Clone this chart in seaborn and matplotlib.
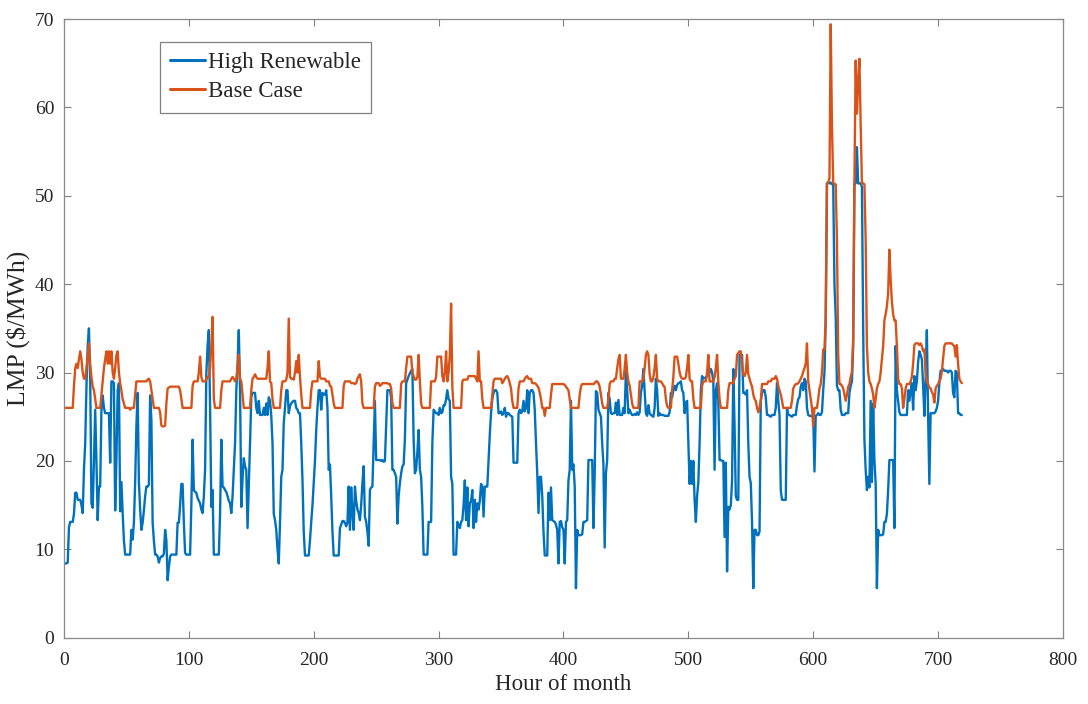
import matplotlib
matplotlib.use("Agg")
import matplotlib.pyplot as plt
import numpy as np
import pandas as pd
import seaborn as sns

# Hourly LMP values ($/MWh), one row of 24 values per day (30 days)
high_renewable = [
    8.5, 8.4, 8.4, 8.5, 12.5, 13.1, 13.1, 13.1, 14.0, 16.4, 16.4, 15.6, 15.6, 15.6, 15.0, 14.1, 19.0, 22.0, 28.4, 33.0, 35.0, 29.3, 15.2, 14.7,
    20.0, 25.8, 20.0, 13.3, 17.1, 17.1, 25.8, 27.4, 26.0, 25.4, 25.4, 25.4, 25.4, 19.8, 29.0, 29.0, 28.8, 14.4, 20.0, 28.0, 28.8, 14.3, 17.6, 14.1,
    11.0, 9.4, 9.4, 9.4, 9.4, 9.4, 12.2, 11.1, 13.0, 17.6, 24.0, 27.7, 17.6, 14.5, 12.2, 13.0, 14.4, 16.0, 17.1, 17.1, 17.3, 27.4, 24.6, 13.0,
    11.0, 9.4, 9.4, 9.2, 8.5, 9.0, 9.2, 9.2, 9.5, 12.2, 11.0, 6.5, 8.0, 9.2, 9.4, 9.4, 9.4, 9.4, 9.4, 13.0, 13.0, 15.0, 17.4, 17.4,
    13.0, 9.6, 9.4, 9.4, 9.4, 9.4, 15.0, 22.4, 16.7, 16.5, 16.4, 15.8, 15.5, 15.2, 14.5, 14.1, 16.0, 19.0, 29.9, 33.0, 34.8, 26.1, 14.8, 16.7,
    9.4, 9.4, 9.4, 9.4, 9.4, 14.0, 22.4, 17.1, 17.0, 16.7, 16.5, 16.0, 15.5, 15.2, 14.1, 16.0, 19.0, 22.0, 28.0, 31.0, 34.8, 28.0, 14.8, 18.0,
    20.3, 19.4, 19.0, 12.4, 17.1, 22.0, 27.2, 27.7, 27.7, 27.7, 26.0, 25.4, 26.8, 25.2, 25.2, 25.2, 26.0, 25.2, 26.5, 25.2, 27.2, 26.8, 25.1, 22.0,
    14.0, 13.3, 12.2, 10.0, 8.4, 13.0, 18.2, 19.0, 24.3, 26.0, 28.0, 28.0, 25.4, 26.2, 26.5, 26.7, 26.8, 26.8, 26.0, 25.8, 25.4, 25.4, 22.0, 17.8,
    12.0, 9.3, 9.3, 9.3, 9.3, 11.0, 13.1, 15.0, 17.4, 20.0, 23.5, 26.0, 28.0, 28.0, 25.8, 27.7, 27.5, 27.5, 28.0, 26.0, 19.0, 19.6, 16.0, 12.0,
    9.3, 9.3, 9.3, 9.3, 9.3, 12.4, 12.8, 13.2, 13.2, 13.0, 12.6, 13.0, 17.1, 12.2, 17.0, 14.0, 12.2, 17.1, 15.5, 14.5, 14.1, 13.3, 15.0, 17.5,
    19.4, 13.7, 13.1, 12.0, 10.4, 16.7, 17.0, 17.1, 22.0, 26.8, 20.1, 20.1, 20.1, 20.1, 20.0, 20.1, 19.9, 20.0, 24.0, 28.0, 28.0, 28.0, 27.2, 19.0,
    19.0, 18.6, 18.2, 12.9, 16.0, 17.5, 18.6, 19.4, 19.6, 22.4, 28.8, 29.2, 29.6, 29.9, 30.2, 30.4, 22.4, 18.6, 19.0, 21.0, 23.5, 19.0, 18.2, 14.8,
    9.4, 9.4, 9.4, 9.4, 13.1, 13.1, 13.1, 22.0, 25.8, 25.6, 25.4, 25.4, 25.2, 26.0, 25.4, 25.5, 26.3, 26.3, 27.0, 28.0, 27.0, 26.8, 18.2, 17.4,
    9.4, 9.4, 9.4, 13.1, 12.8, 12.4, 13.1, 13.3, 15.0, 17.8, 13.3, 17.0, 12.6, 15.2, 15.5, 16.7, 12.4, 15.6, 13.1, 15.2, 14.5, 15.5, 17.4, 17.1,
    13.7, 17.1, 17.1, 17.1, 20.0, 23.0, 25.4, 27.0, 27.7, 28.0, 28.0, 27.7, 25.4, 25.4, 25.6, 25.2, 25.4, 26.0, 25.0, 25.4, 25.4, 25.2, 25.1, 25.0,
    19.8, 19.8, 19.8, 19.8, 25.4, 25.8, 25.4, 25.6, 26.8, 25.6, 26.0, 28.0, 25.4, 27.7, 28.0, 28.0, 27.7, 25.8, 22.0, 18.6, 14.1, 18.2, 18.2, 16.0,
    12.0, 9.3, 9.3, 9.3, 16.4, 13.3, 17.0, 13.3, 13.2, 13.1, 12.8, 12.2, 8.4, 13.1, 13.2, 12.5, 12.2, 8.4, 13.1, 13.3, 17.8, 19.0, 26.8, 19.0,
    19.6, 17.1, 5.6, 12.2, 11.6, 11.6, 11.6, 11.7, 13.1, 13.1, 13.2, 13.3, 20.1, 20.1, 20.1, 20.1, 12.4, 18.6, 27.9, 27.7, 25.8, 25.4, 25.0, 22.0,
    19.6, 10.2, 18.6, 20.1, 27.7, 27.0, 25.4, 25.3, 25.4, 25.4, 26.6, 25.2, 26.9, 25.2, 25.2, 25.2, 26.0, 25.4, 30.2, 28.0, 25.4, 25.8, 25.4, 25.2,
    25.2, 25.3, 25.2, 25.5, 25.2, 25.5, 27.7, 28.5, 30.4, 28.0, 25.4, 25.1, 26.3, 25.4, 25.2, 25.1, 25.0, 26.0, 29.3, 28.0, 25.1, 25.4, 25.2, 25.2,
    25.2, 25.1, 25.1, 25.1, 25.1, 25.5, 27.7, 27.2, 28.0, 28.5, 28.0, 28.6, 28.8, 28.8, 29.0, 28.0, 27.7, 25.4, 26.6, 26.8, 22.0, 17.4, 20.0, 17.4,
    20.0, 15.6, 13.1, 16.0, 17.6, 22.0, 28.0, 29.6, 29.3, 29.4, 29.4, 29.6, 29.8, 30.0, 30.4, 30.0, 29.0, 19.0, 28.0, 28.8, 26.8, 20.1, 20.1, 20.0,
    20.0, 11.4, 19.8, 7.5, 14.8, 14.5, 15.0, 17.8, 30.4, 24.0, 16.0, 15.6, 15.6, 32.0, 32.0, 32.0, 27.7, 27.7, 27.5, 28.0, 22.0, 18.2, 17.5, 13.1,
    5.6, 12.2, 12.2, 11.6, 11.6, 12.0, 26.8, 27.7, 28.0, 28.0, 27.2, 25.2, 25.2, 25.1, 25.0, 25.2, 25.2, 25.2, 26.0, 28.8, 26.8, 25.2, 16.7, 15.6,
    15.6, 15.6, 15.6, 26.0, 25.2, 25.2, 25.1, 25.0, 25.2, 25.2, 25.2, 26.3, 27.0, 27.2, 28.4, 28.8, 28.0, 29.3, 29.0, 26.0, 25.2, 25.1, 25.1, 25.0,
    25.1, 18.8, 25.1, 25.2, 25.4, 25.2, 25.2, 25.5, 28.0, 30.0, 36.0, 51.4, 51.5, 51.4, 51.5, 51.3, 51.3, 40.0, 36.3, 28.5, 28.0, 28.0, 25.8, 25.2,
    25.2, 25.2, 25.4, 25.4, 25.4, 27.7, 28.5, 29.0, 33.0, 51.4, 51.4, 55.5, 51.4, 51.4, 51.4, 51.0, 35.0, 22.4, 19.0, 16.7, 18.2, 17.0, 26.8, 17.6,
    26.5, 20.1, 17.4, 5.6, 12.2, 11.6, 11.6, 11.6, 11.7, 13.1, 13.1, 14.0, 16.7, 20.1, 20.1, 20.1, 20.1, 12.4, 33.0, 28.0, 26.8, 25.5, 25.2, 25.2,
    25.2, 25.2, 25.2, 25.2, 28.0, 26.8, 28.0, 28.8, 25.8, 29.6, 28.0, 29.0, 31.2, 32.4, 32.0, 31.5, 28.5, 25.1, 29.3, 34.8, 25.1, 17.4, 25.4, 25.4,
    25.4, 25.4, 25.6, 26.0, 26.8, 28.8, 30.2, 30.2, 30.4, 30.2, 30.2, 30.2, 30.0, 30.2, 30.2, 30.0, 27.7, 27.2, 30.2, 30.0, 25.4, 25.4, 25.2, 25.2,
]

base_case = [
    26.0, 26.0, 26.0, 26.0, 26.0, 26.0, 26.0, 26.0, 28.5, 30.5, 31.0, 30.5, 31.5, 32.4, 31.5, 30.0, 29.3, 29.3, 30.5, 32.0, 33.3, 31.0, 29.5, 28.4,
    28.0, 27.0, 26.0, 26.0, 26.0, 26.0, 27.5, 29.0, 30.5, 31.5, 32.4, 31.0, 32.4, 31.0, 32.4, 30.0, 29.3, 30.5, 32.0, 32.4, 30.0, 28.8, 28.0, 27.0,
    26.5, 26.0, 26.0, 26.0, 26.0, 25.8, 26.0, 26.0, 26.0, 27.5, 29.0, 29.0, 29.0, 29.0, 29.0, 29.0, 29.0, 29.0, 29.0, 29.2, 29.3, 29.0, 28.0, 27.0,
    26.0, 26.0, 26.0, 26.0, 26.0, 25.5, 24.0, 23.9, 23.9, 24.0, 26.5, 28.2, 28.3, 28.4, 28.4, 28.4, 28.4, 28.4, 28.4, 28.4, 28.4, 28.0, 27.0, 26.0,
    26.0, 26.0, 26.0, 26.0, 26.0, 26.0, 26.0, 28.5, 29.0, 29.0, 29.0, 29.0, 30.0, 31.8, 29.5, 29.0, 29.0, 29.0, 29.2, 29.5, 29.5, 30.5, 33.0, 36.3,
    27.0, 26.0, 26.0, 26.0, 26.0, 26.0, 28.0, 29.0, 29.0, 29.0, 29.0, 29.0, 29.0, 29.0, 29.3, 29.5, 29.3, 29.0, 29.3, 30.5, 32.0, 29.3, 29.0, 27.5,
    26.0, 26.0, 26.0, 26.0, 26.0, 26.0, 28.0, 29.3, 29.5, 29.8, 29.5, 29.3, 29.3, 29.3, 29.3, 29.3, 29.3, 29.3, 29.3, 30.5, 32.4, 29.0, 28.8, 27.0,
    26.0, 26.0, 26.0, 26.0, 26.0, 26.0, 28.0, 29.0, 29.0, 29.0, 29.2, 30.0, 36.1, 29.5, 29.3, 29.3, 29.2, 30.0, 31.3, 30.0, 32.0, 29.5, 27.5, 26.0,
    26.0, 26.0, 26.0, 26.0, 26.0, 26.0, 28.0, 29.0, 29.0, 29.0, 29.0, 29.0, 31.3, 29.5, 29.3, 29.3, 29.3, 29.3, 29.0, 29.0, 29.0, 28.5, 28.4, 27.5,
    26.5, 26.0, 26.0, 26.0, 26.0, 26.0, 26.0, 26.0, 28.5, 29.0, 29.0, 29.0, 29.0, 29.0, 28.8, 28.8, 28.8, 28.7, 28.8, 29.3, 29.6, 29.8, 29.0, 26.5,
    26.0, 26.0, 26.0, 26.0, 26.0, 26.0, 26.0, 26.0, 26.0, 28.4, 28.8, 28.8, 28.8, 28.5, 28.6, 28.8, 28.8, 28.8, 28.8, 28.8, 28.7, 28.7, 28.2, 26.5,
    26.0, 26.0, 26.0, 26.0, 26.0, 26.0, 28.7, 29.0, 29.0, 29.0, 30.5, 31.8, 31.8, 31.8, 31.8, 30.0, 29.6, 29.2, 29.2, 29.5, 32.0, 29.0, 26.5, 26.0,
    26.0, 26.0, 26.0, 26.0, 26.0, 26.0, 29.0, 29.0, 29.0, 29.0, 29.5, 31.8, 31.8, 31.8, 31.8, 29.6, 29.0, 30.0, 32.4, 29.0, 30.0, 32.0, 37.8, 28.4,
    26.0, 26.0, 26.0, 26.0, 26.0, 26.0, 26.0, 29.0, 29.2, 29.2, 29.2, 29.2, 29.6, 29.6, 29.6, 29.6, 29.6, 29.6, 29.3, 29.0, 32.4, 29.0, 29.0, 27.0,
    26.0, 26.0, 26.0, 26.0, 26.0, 26.0, 26.0, 27.5, 29.0, 29.3, 29.3, 29.3, 29.3, 29.3, 29.3, 28.8, 29.0, 29.3, 29.5, 29.6, 29.3, 28.8, 28.2, 26.8,
    26.0, 26.0, 26.0, 26.0, 28.2, 29.0, 29.0, 29.0, 29.0, 29.3, 29.5, 29.6, 29.3, 29.3, 29.3, 28.8, 28.8, 28.8, 28.7, 28.5, 28.3, 27.7, 27.0, 26.0,
    26.0, 25.1, 26.0, 26.0, 26.0, 26.0, 27.5, 28.7, 28.7, 28.7, 28.7, 28.7, 28.7, 28.7, 28.7, 28.7, 28.7, 28.6, 28.4, 28.2, 28.0, 27.0, 26.0, 26.0,
    26.0, 26.0, 26.0, 26.0, 26.0, 27.5, 28.4, 28.7, 28.7, 28.7, 28.7, 28.7, 28.7, 28.7, 28.7, 28.7, 28.7, 28.8, 29.0, 29.0, 28.8, 28.4, 27.5, 26.5,
    26.0, 26.0, 26.0, 26.0, 27.0, 28.7, 29.0, 29.0, 29.0, 29.3, 29.3, 30.5, 31.5, 32.0, 29.3, 29.3, 29.3, 30.5, 32.0, 30.0, 29.0, 28.5, 27.5, 26.5,
    26.0, 26.0, 26.0, 26.0, 26.0, 29.0, 29.0, 29.0, 29.3, 30.5, 32.0, 32.4, 32.0, 29.8, 29.0, 29.0, 29.5, 30.5, 32.0, 29.3, 29.0, 29.0, 29.0, 28.8,
    28.5, 28.4, 27.0, 26.2, 26.0, 26.0, 26.0, 28.0, 29.5, 31.8, 31.8, 31.8, 31.0, 30.0, 29.5, 29.3, 29.3, 29.3, 29.5, 30.5, 32.0, 29.3, 29.0, 29.0,
    27.0, 26.0, 26.0, 26.0, 26.0, 26.0, 26.0, 28.5, 29.0, 29.0, 29.0, 30.0, 32.0, 29.0, 29.0, 29.0, 29.0, 29.5, 30.5, 32.0, 29.0, 27.0, 26.0, 26.0,
    26.0, 26.0, 26.0, 26.0, 28.0, 28.8, 28.8, 28.8, 28.8, 29.3, 29.6, 32.0, 32.2, 32.4, 32.4, 31.0, 29.8, 29.6, 30.0, 32.0, 29.8, 29.3, 28.8, 28.4,
    27.5, 27.0, 26.8, 26.0, 25.5, 26.0, 26.8, 28.7, 28.7, 28.7, 28.7, 28.7, 29.0, 29.0, 29.0, 29.3, 29.3, 29.3, 29.6, 29.3, 28.5, 28.0, 27.5, 26.8,
    26.0, 26.0, 26.0, 26.0, 26.0, 26.0, 26.0, 26.8, 28.2, 28.5, 28.7, 28.7, 28.8, 29.0, 29.3, 29.6, 30.1, 30.5, 31.0, 33.3, 29.0, 28.0, 27.0, 26.0,
    23.9, 26.0, 26.0, 26.0, 27.0, 28.2, 28.7, 30.0, 32.6, 32.6, 36.0, 51.4, 51.5, 52.0, 69.4, 58.0, 51.5, 51.3, 51.3, 45.0, 32.0, 28.7, 28.7, 28.5,
    28.2, 27.5, 26.8, 27.5, 28.4, 28.7, 29.5, 30.1, 33.9, 52.0, 65.3, 59.3, 63.0, 65.5, 58.0, 51.4, 51.4, 51.3, 45.0, 33.0, 30.0, 29.0, 28.7, 28.2,
    27.5, 26.0, 27.0, 28.2, 28.7, 29.0, 30.0, 31.5, 33.0, 35.9, 36.6, 37.5, 39.0, 43.9, 40.5, 38.0, 36.6, 35.9, 35.9, 33.0, 29.3, 28.7, 28.7, 28.2,
    26.0, 27.0, 28.2, 28.7, 28.7, 28.7, 29.0, 29.5, 31.0, 33.1, 33.3, 33.3, 33.3, 33.1, 33.3, 33.0, 32.4, 32.6, 30.1, 29.0, 28.7, 28.3, 28.2, 27.8,
    27.5, 26.6, 28.2, 28.5, 28.7, 29.0, 29.3, 30.1, 31.5, 33.0, 33.3, 33.3, 33.3, 33.3, 33.3, 33.3, 33.1, 33.0, 31.8, 33.1, 31.0, 29.3, 29.0, 28.8,
]

hours = list(range(len(high_renewable)))
series_names = ["High Renewable", "Base Case"]
series_colors = ["#0072BD", "#D95319"]
x_ticks = [0, 100, 200, 300, 400, 500, 600, 700, 800]
y_ticks = [0, 10, 20, 30, 40, 50, 60, 70]
x_label = "Hour of month"
y_label = r"LMP (\$/MWh)"

df = pd.DataFrame({
    "hour": hours + hours,
    "lmp": high_renewable + base_case,
    "series": [series_names[0]] * len(hours) + [series_names[1]] * len(hours),
})

sns.set_style("white")
plt.rcParams["font.family"] = ["Liberation Serif", "DejaVu Serif"]

fig = plt.figure(figsize=(10.88, 7.04), dpi=100)
ax = fig.add_axes([0.0588, 0.0942, 0.9182, 0.8788])

sns.lineplot(data=df, x="hour", y="lmp", hue="series", hue_order=series_names,
             palette=series_colors, linewidth=1.7, estimator=None, sort=False,
             ax=ax)

ax.set_xlim(0, 800)
ax.set_ylim(0, 70)
ax.set_xticks(x_ticks)
ax.set_yticks(y_ticks)
ax.tick_params(axis="both", which="both", direction="in", length=5, width=0.8,
               color="#808080", labelsize=14, labelcolor="#262626",
               top=True, right=True, bottom=True, left=True)
ax.tick_params(axis="x", pad=10)
ax.tick_params(axis="y", pad=7)
for sp in ax.spines.values():
    sp.set_visible(True)
    sp.set_color("#8a8a8a")
    sp.set_linewidth(0.9)

ax.set_xlabel(x_label, fontsize=16.5, color="#262626", labelpad=4)
ax.set_ylabel(y_label, fontsize=18.5, color="#262626", labelpad=3)

handles, labels = ax.get_legend_handles_labels()
for h in handles:
    h.set_linewidth(2.2)
leg = ax.legend(handles, labels, loc="upper left", bbox_to_anchor=(0.096, 0.963),
                borderaxespad=0, frameon=True, fancybox=False, framealpha=1,
                edgecolor="#808080", fontsize=16.5, handlelength=1.5,
                handletextpad=0.15, borderpad=0.45, labelspacing=0.35)
leg.get_frame().set_linewidth(0.9)
for t in leg.get_texts():
    t.set_color("#262626")

fig.savefig("out.png", dpi=100, facecolor="white")
